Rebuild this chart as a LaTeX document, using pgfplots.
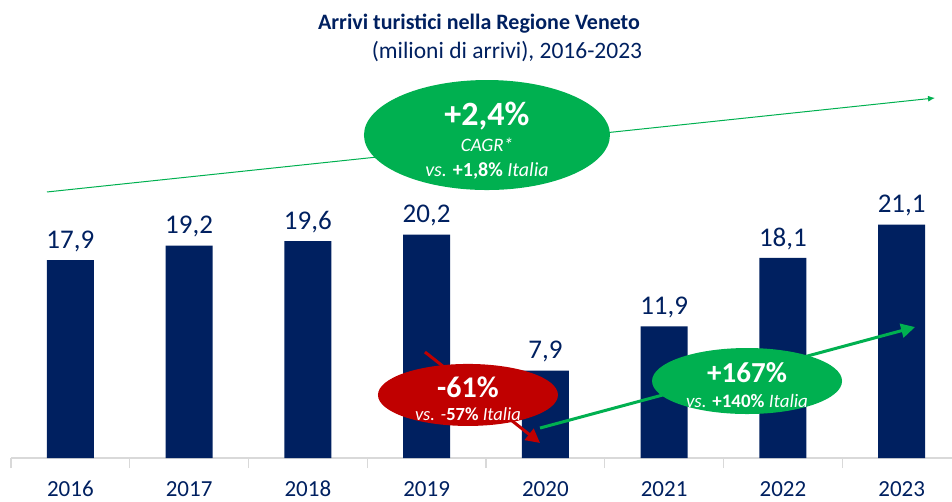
\documentclass[border=0pt]{standalone}
\usepackage{pgfplots}
\pgfplotsset{compat=1.18}
\usepackage{fontspec}
\setmainfont{Carlito}
\usetikzlibrary{arrows.meta}
\definecolor{navy}{HTML}{002060}
\definecolor{gr}{HTML}{00B050}
\definecolor{rd}{HTML}{C00000}
\definecolor{axg}{HTML}{D9D9D9}
\begin{document}
\begin{tikzpicture}
\path[use as bounding box] (0,0) rectangle (952pt,501pt);
\begin{axis}[
  at={(11pt,43pt)}, anchor=south west,
  scale only axis, width=941pt, height=398.2pt,
  xmin=-0.5, xmax=7.424, ymin=0, ymax=36,
  clip=false,
  axis y line=none, axis x line*=bottom,
  x axis line style={axg, line width=1.2pt, -},
  xtick={0,...,7}, major tick length=0pt,
  xticklabels={2016,2017,2018,2019,2020,2021,2022,2023},
  minor xtick={-0.5,0.5,...,6.5},
  minor tick length=10pt,
  tick align=outside,
  minor tick style={axg, line width=1.2pt},
  xticklabel style={font=\fontsize{23}{27}\selectfont, text=navy, anchor=north, inner sep=0pt, yshift=-23pt},
  ybar, bar width=47pt,
  nodes near coords,
  every node near coord/.append style={font=\fontsize{27}{32}\selectfont, text=navy, inner sep=0pt, yshift=8pt,
    /pgf/number format/.cd, use comma, fixed, fixed zerofill, precision=1, assume math mode=true},
]
\addplot[fill=navy, draw=none] coordinates {(0,17.9) (1,19.2) (2,19.6) (3,20.2) (4,7.9) (5,11.9) (6,18.1) (7,21.1)};
% CAGR line
\draw[gr, line width=1pt, -{Latex[length=7pt,width=6pt]}] (axis cs:-0.197,24.05) -- (axis cs:7.281,32.55);
\fill[gr] (axis cs:3.508,29.2) ellipse [x radius=123pt, y radius=55pt];
\node[white, font=\bfseries\fontsize{34}{40}\selectfont] at ([yshift=19pt]axis cs:3.508,29.2) {+2,4\%};
\node[white, font=\itshape\fontsize{19}{22}\selectfont] at ([yshift=-10pt]axis cs:3.508,29.2) {CAGR*};
\node[white, font=\fontsize{20}{24}\selectfont] at ([yshift=-36pt]axis cs:3.508,29.2) {\textit{vs.} \textbf{+1,8\%} \textit{Italia}};
% red arrow
\draw[rd, line width=3pt, -{Triangle[length=14pt,width=14pt]}] (axis cs:2.986,9.58) -- (axis cs:3.955,1.36);
% green arrow
\draw[gr, line width=3pt, -{Triangle[length=14pt,width=14pt]}] (axis cs:3.955,2.71) -- (axis cs:7.113,11.84);
\fill[rd] (axis cs:3.348,5.70) ellipse [x radius=90pt, y radius=31pt];
\node[white, font=\bfseries\fontsize{30}{34}\selectfont] at ([yshift=8pt]axis cs:3.348,5.70) {-61\%};
\node[white, font=\fontsize{18.5}{22}\selectfont] at ([yshift=-19pt]axis cs:3.348,5.70) {\textit{vs. -}\textbf{57\%} \textit{Italia}};
\fill[gr] (axis cs:5.698,6.96) ellipse [x radius=95pt, y radius=33pt];
\node[white, font=\bfseries\fontsize{29}{34}\selectfont] at ([yshift=8pt]axis cs:5.698,6.96) {+167\%};
\node[white, font=\fontsize{19}{22}\selectfont] at ([yshift=-20pt]axis cs:5.698,6.96) {\textit{vs.} \textbf{+140\%} \textit{Italia}};
\end{axis}
\node[navy, font=\bfseries\fontsize{22}{26}\selectfont] at (479pt,477pt) {Arrivi turistici nella Regione Veneto};
\node[navy, font=\fontsize{23.5}{27}\selectfont] at (507pt,449pt) {(milioni di arrivi), 2016-2023};
\end{tikzpicture}
\end{document}
